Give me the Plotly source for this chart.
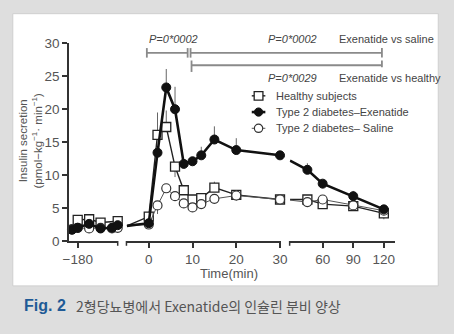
import plotly.graph_objects as go

W, H = 454, 334

# ---------------- data ----------------
# Baseline period (min)
base_t = [-190, -180, -160, -140, -120, -110]
base_healthy_t = [-180, -160, -140, -110]
base_healthy = [3.2, 3.3, 2.8, 3.0]
base_exen = [1.7, 2.0, 2.6, 1.9, 2.0, 2.4]
base_saline = [1.8, 2.0, 1.9, 2.0, 1.9, 2.0]

# Early phase after injection (min); first point is where the line enters past the axis break
early_t = [-5, 0, 2, 4, 6, 8, 10, 12, 15, 20, 30]
early_healthy = [2.3, 3.7, 16.1, 17.3, 11.3, 7.7, 6.3, 6.5, 8.1, 7.0, 6.3]
early_healthy_up = [0, 0.4, 3.4, 2.5, 0, 0.3, 0.3, 0.4, 0.9, 0, 0]
early_healthy_dn = [0, 0, 0, 0, 1.6, 0, 0, 0, 0, 0.8, 0]
early_exen = [2.3, 2.7, 13.4, 23.3, 20.0, 11.7, 12.1, 13.0, 15.4, 13.8, 13.0]
early_exen_up = [0, 0.3, 1.0, 2.8, 3.4, 0.6, 0.5, 1.3, 2.0, 1.8, 0.6]
early_saline = [2.3, 2.5, 5.4, 8.0, 6.8, 5.7, 5.1, 5.6, 6.4, 6.9, 6.3]
early_saline_up = [0, 0, 0, 0.4, 0, 0, 0, 0, 0, 0.8, 0]
early_saline_dn = [0, 0, 1.3, 0.5, 0, 0, 0, 0, 0, 0.8, 0]

# Late phase (min); first point again is the line entering past the break
late_t = [28, 45, 60, 90, 120]
late_healthy = [6.3, 6.3, 5.6, 5.3, 4.2]
late_healthy_dn = [0, 0, 0, 0, 0.9]
late_exen = [12.2, 10.8, 8.7, 6.8, 4.8]
late_exen_up = [0, 1.0, 0.3, 0.8, 0.3]
late_saline = [6.2, 5.9, 6.3, 5.4, 4.6]

y_ticks = [0, 5, 10, 15, 20, 25, 30]
x1_ticks, x1_labels = [-180], ["\u2212180"]
x2_ticks, x2_labels = [0, 10, 20, 30], ["0", "10", "20", "30"]
x3_ticks, x3_labels = [60, 90, 120], ["60", "90", "120"]

FONT = "Liberation Sans, Arial, sans-serif"


def fx(px):
    return px / W


def fy(py):
    return 1 - py / H


H_ = "Healthy subjects"
E_ = "Type 2 diabetes\u2013Exenatide"
S_ = "Type 2 diabetes\u2013 Saline"

styles = {
    H_: dict(marker=dict(symbol="square", size=9, color="white",
                         line=dict(color="#222", width=1.3)),
             line=dict(color="#222", width=1.4)),
    E_: dict(marker=dict(symbol="circle", size=9, color="#111",
                         line=dict(color="#111", width=1)),
             line=dict(color="#111", width=2.6)),
    S_: dict(marker=dict(symbol="circle", size=9, color="white",
                         line=dict(color="#333", width=1.2)),
             line=dict(color="#555", width=1.0)),
}

fig = go.Figure()


def add(name, xs, ys, xaxis, up=None, dn=None, hide_first=False):
    st = styles[name]
    mk = dict(st["marker"])
    if hide_first:
        mk["opacity"] = [0] + [1] * (len(xs) - 1)
    err = None
    if up is not None or dn is not None:
        up = up if up is not None else [0] * len(xs)
        dn = dn if dn is not None else [0] * len(xs)
        err = dict(type="data", symmetric=False, array=up, arrayminus=dn,
                   color="#666", thickness=1, width=0)
    fig.add_trace(go.Scatter(
        x=xs, y=ys, xaxis=xaxis, yaxis="y", mode="lines+markers",
        name=name, showlegend=False, marker=mk, line=st["line"],
        error_y=err, cliponaxis=False, hoverinfo="skip"))


# drawing order: healthy, saline, exenatide on top
add(H_, base_healthy_t, base_healthy, "x")
add(S_, base_t, base_saline, "x")
add(E_, base_t, base_exen, "x")

add(H_, early_t, early_healthy, "x2", early_healthy_up, early_healthy_dn, hide_first=True)
add(S_, early_t, early_saline, "x2", early_saline_up, early_saline_dn, hide_first=True)
add(E_, early_t, early_exen, "x2", early_exen_up, None, hide_first=True)

add(H_, late_t, late_healthy, "x3", None, late_healthy_dn, hide_first=True)
add(S_, late_t, late_saline, "x3", hide_first=True)
add(E_, late_t, late_exen, "x3", late_exen_up, None, hide_first=True)

axis_common = dict(
    showline=True, linecolor="#333", linewidth=2, showgrid=False, zeroline=False,
    ticks="outside", ticklen=5, tickwidth=1.5, tickcolor="#333",
    tickfont=dict(family=FONT, size=13.5, color="#555"), anchor="y",
)

fig.update_layout(
    width=W, height=H,
    margin=dict(l=0, r=0, t=0, b=0),
    paper_bgcolor="#dedede", plot_bgcolor="rgba(0,0,0,0)",
    font=dict(family=FONT, color="#444"),
    showlegend=False,
    xaxis=dict(domain=[fx(65), fx(115)], range=[-195, -110],
               tickvals=x1_ticks, ticktext=x1_labels, **axis_common),
    xaxis2=dict(domain=[fx(124), fx(283)], range=[-5.1, 30.2],
                tickvals=x2_ticks, ticktext=x2_labels, **axis_common),
    xaxis3=dict(domain=[fx(292), fx(400)], range=[27.6, 130.5],
                tickvals=x3_ticks, ticktext=x3_labels, **axis_common),
    yaxis=dict(domain=[fy(245), fy(38)], range=[0, 30], anchor="x",
               tickvals=y_ticks,
               showline=True, linecolor="#333", linewidth=2, showgrid=False,
               zeroline=False, ticks="outside", ticklen=5, tickwidth=1.5,
               tickcolor="#333", tickfont=dict(family=FONT, size=13.5, color="#555")),
)

shapes = []
# white panel behind the chart
shapes.append(dict(type="rect", xref="paper", yref="paper", layer="below",
                   x0=fx(7), x1=fx(445), y0=fy(292), y1=fy(7),
                   fillcolor="white", line=dict(color="#cfcfcf", width=1)))

BR = dict(color="#8a8a8a", width=1.8)


def hline(x0, x1, y, line=BR):
    shapes.append(dict(type="line", xref="paper", yref="paper",
                       x0=fx(x0), x1=fx(x1), y0=fy(y), y1=fy(y), line=line))


def vline(x, y0, y1, line=BR):
    shapes.append(dict(type="line", xref="paper", yref="paper",
                       x0=fx(x), x1=fx(x), y0=fy(y0), y1=fy(y1), line=line))


# end marks at the axis breaks
BRK = dict(color="#333", width=1.5)
for bx in (115, 124, 292):
    vline(bx, 245, 250, line=BRK)

# significance brackets
hline(145, 187, 48); vline(145, 43, 53); vline(187, 43, 53)
hline(190, 387, 48); vline(190, 43, 53); vline(387, 43, 53)
hline(191, 387, 61); vline(191, 56, 68); vline(387, 56, 63)

annotations = []


def text(x, y, s, size=11, color="#444", xanchor="left", family=FONT, angle=0):
    annotations.append(dict(xref="paper", yref="paper", x=fx(x), y=fy(y), text=s,
                            showarrow=False, xanchor=xanchor, yanchor="middle",
                            textangle=angle,
                            font=dict(family=family, size=size, color=color)))


# legend: short line sample, marker and label per series
legend_rows = [(H_, 93, "square"), (E_, 110, "circle"), (S_, 127, "circle")]
for name, ly, kind in legend_rows:
    st = styles[name]
    hline(253, 267, ly, line=dict(color=st["line"]["color"], width=st["line"]["width"]))
    r = 4.5 if kind == "square" else 4.3
    shapes.append(dict(type="rect" if kind == "square" else "circle",
                       xref="paper", yref="paper",
                       x0=fx(260 - r), x1=fx(260 + r), y0=fy(ly + r), y1=fy(ly - r),
                       fillcolor=st["marker"]["color"],
                       line=dict(color=st["marker"]["line"]["color"],
                                 width=st["marker"]["line"]["width"])))
    text(276, ly, name)

text(145, 33, "<i>P=0*0002</i>")
text(268, 33, "<i>P=0*0002</i>")
text(341, 33, "Exenatide vs saline")
text(268, 74, "<i>P=0*0029</i>")
text(341, 74, "Exenatide vs healthy")

text(230, 279, "Time(min)", size=13, color="#555", xanchor="center")
text(25.5, 140, "Insulin secretion<br>(pmol\u2212kg<sup>\u22121</sup>\u00b7 min<sup>\u22121</sup>)",
     size=11.5, color="#555", xanchor="center", angle=-90)

text(16, 313, "<b>Fig. 2</b>", size=16, color="#1f5a96")
text(70, 313, "2형당뇨병에서 Exenatide의 인슐린 분비 양상", size=14, color="#555",
     family="Noto Sans CJK KR, sans-serif")

fig.update_layout(shapes=shapes, annotations=annotations)

fig.write_html("out.html")
